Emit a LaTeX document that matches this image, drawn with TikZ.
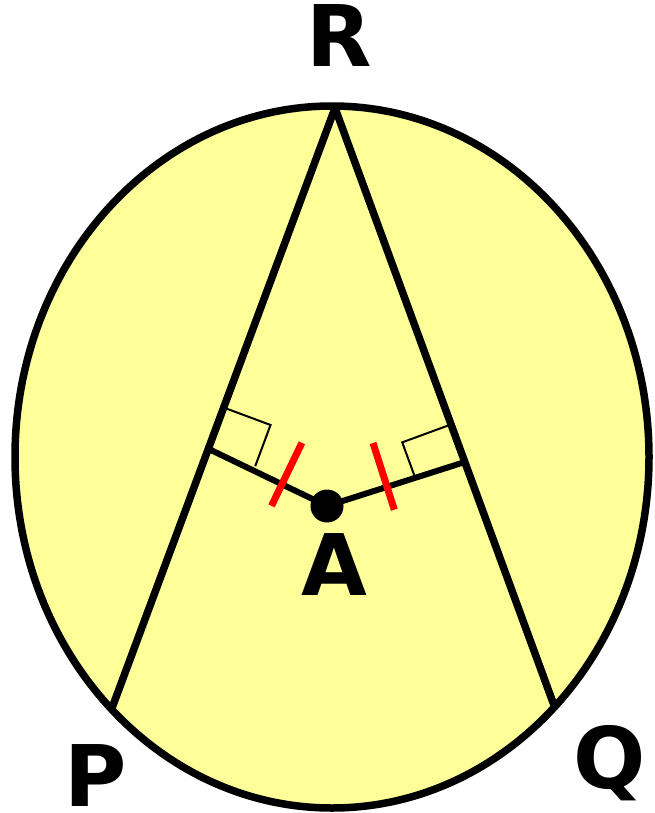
\documentclass[tikz,border=0pt]{standalone}
\usepackage{fontspec}
\setmainfont{DejaVu Sans}
\usetikzlibrary{calc,positioning}

\definecolor{discfill}{RGB}{255,255,153}
\definecolor{tickred}{RGB}{255,0,0}

\begin{document}
\begin{tikzpicture}[x=1pt,y=-1pt,
    rim/.style={line width=7.5pt},
    chord/.style={line width=7.5pt,line join=round},
    radial/.style={line width=6pt},
    rightmark/.style={line width=2pt},
    tickmark/.style={draw=tickred,line width=7pt},
    lbl/.style={font=\fontsize{85}{85}\selectfont\bfseries,inner sep=0pt}]
      \useasboundingbox (0,0) rectangle (655,813);
      \coordinate (O) at (332,457);
      \coordinate (R) at (335,108);
      \coordinate (P) at (112,708);
      \coordinate (Q) at (555,708);
      \coordinate (A) at (327,506);
      \coordinate (M) at ($(R)!0.568!(P)$);
      \coordinate (N) at ($(R)!0.59!(Q)$);
      \fill[discfill] (O) ellipse [x radius=317pt,y radius=351pt];
      \draw[chord] (P) -- (R) -- (Q);
      \draw[rim] (O) ellipse [x radius=317pt,y radius=351pt];
      % right angle marks
      \coordinate (M1) at ($(M)!44pt!(R)$);
      \coordinate (M2) at ($(M)!50pt!-90:(R)$);
      \draw[rightmark] (M1) -- ($(M1)+(M2)-(M)$) -- (M2);
      \coordinate (N1) at ($(N)!40pt!(R)$);
      \coordinate (N2) at ($(N)!52pt!90:(R)$);
      \draw[rightmark] (N1) -- ($(N1)+(N2)-(N)$) -- (N2);
      \draw[radial] (M) -- (A) -- (N);
      % equal marks
      \coordinate (C1) at ($(A)!0.38!(M)$);
      \coordinate (C2) at ($(A)!63pt!(N)$);
      \draw[tickmark] ($(C1)!46pt!90:(A)$) -- ($(C1)!24pt!-90:(A)$);
      \draw[tickmark] ($(C2)!46pt!-90:(A)$) -- ($(C2)!24pt!90:(A)$);
      \fill (A) circle [radius=16.5pt];
      \node[lbl,above=41pt of R,xshift=4pt] (labR) {R};
      \node[lbl,below=27pt of A,xshift=7pt] (labA) {A};
      \node[lbl,below=36pt of P,xshift=-16.5pt] (labP) {P};
      \node[lbl,below=17pt of Q,xshift=55pt] (labQ) {Q};
    \end{tikzpicture}
\end{document}
